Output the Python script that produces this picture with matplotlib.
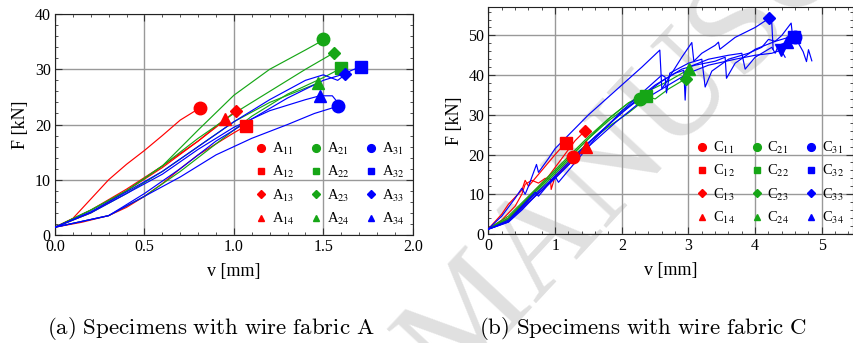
import matplotlib
matplotlib.use("Agg")
import matplotlib.pyplot as plt
from matplotlib.ticker import MultipleLocator, FormatStrFormatter

plt.rcParams['font.family'] = ['Liberation Serif', 'DejaVu Serif']
plt.rcParams['mathtext.fontset'] = 'stix'

RED, GREEN, BLUE = '#ff0000', '#16a616', '#0000ff'

# ---------------- Data: wire fabric A ----------------
A11_v = [0, 0.1, 0.2, 0.3, 0.4, 0.5, 0.6, 0.7, 0.81]
A11_F = [1.4, 3.0, 6.5, 10.0, 12.8, 15.3, 18.0, 20.8, 23.0]
A12_v = [0, 0.15, 0.3, 0.4, 0.5, 0.6, 0.7, 0.8, 0.9, 1.0, 1.07]
A12_F = [1.4, 2.3, 3.5, 5.0, 7.0, 9.3, 12.0, 14.5, 16.5, 18.5, 19.8]
A13_v = [0, 0.2, 0.4, 0.6, 0.8, 0.9, 1.01]
A13_F = [1.4, 4.5, 8.3, 12.5, 17.0, 19.5, 22.5]
A14_v = [0, 0.2, 0.4, 0.6, 0.8, 0.95]
A14_F = [1.4, 4.0, 8.0, 12.2, 17.0, 21.0]
A21_v = [0, 0.2, 0.4, 0.6, 0.8, 1.0, 1.2, 1.4, 1.5, 1.53]
A21_F = [1.4, 4.5, 8.0, 12.5, 19.0, 25.3, 30.0, 33.5, 35.3, 35.0]
A22_v = [0, 0.3, 0.5, 0.7, 0.9, 1.1, 1.3, 1.5, 1.6]
A22_F = [1.4, 3.5, 7.0, 11.5, 16.5, 21.5, 25.5, 28.5, 30.2]
A23_v = [0, 0.2, 0.4, 0.6, 0.8, 1.0, 1.2, 1.4, 1.56]
A23_F = [1.4, 4.5, 8.0, 12.5, 17.5, 22.0, 26.0, 30.0, 33.0]
A24_v = [0, 0.2, 0.4, 0.6, 0.8, 1.0, 1.2, 1.47]
A24_F = [1.4, 4.0, 7.5, 11.5, 16.0, 20.5, 24.0, 27.5]
A31_v = [0, 0.3, 0.5, 0.7, 0.9, 1.1, 1.3, 1.45, 1.58]
A31_F = [1.4, 3.5, 7.0, 10.5, 14.5, 17.5, 20.0, 22.0, 23.3]
A32_v = [0, 0.2, 0.4, 0.6, 0.8, 1.0, 1.2, 1.4, 1.5, 1.58, 1.65, 1.71, 1.74]
A32_F = [1.4, 4.2, 7.8, 11.5, 16.0, 20.5, 24.5, 28.0, 29.0, 28.0, 29.7, 30.5, 30.2]
A33_v = [0, 0.3, 0.5, 0.7, 0.9, 1.1, 1.3, 1.5, 1.62]
A33_F = [1.4, 3.5, 7.5, 12.0, 17.0, 21.0, 24.8, 28.0, 29.2]
A34_v = [0, 0.2, 0.4, 0.6, 0.8, 1.0, 1.2, 1.4, 1.48, 1.55, 1.58]
A34_F = [1.4, 4.0, 7.5, 11.0, 15.5, 19.5, 22.5, 24.5, 25.2, 25.2, 24.0]
# end-marker positions (peak points)
A_end_v = [0.81, 1.07, 1.01, 0.95, 1.50, 1.60, 1.56, 1.47, 1.58, 1.71, 1.62, 1.48]
A_end_F = [23.0, 19.8, 22.5, 21.0, 35.4, 30.2, 33.0, 27.5, 23.3, 30.5, 29.2, 25.2]

# ---------------- Data: wire fabric C ----------------
C11_v = [0, 0.2, 0.4, 0.6, 0.8, 1.0, 1.15, 1.27]
C11_F = [1.3, 2.5, 5.0, 8.0, 11.0, 14.5, 17.0, 19.3]
C12_v = [0, 0.2, 0.3, 0.5, 0.55, 0.6, 0.7, 0.8, 1.0, 1.16]
C12_F = [1.3, 5.0, 7.5, 11.0, 13.5, 12.0, 14.0, 16.0, 20.0, 23.0]
C13_v = [0, 0.3, 0.5, 0.7, 0.9, 1.1, 1.3, 1.45]
C13_F = [1.3, 4.0, 7.5, 11.0, 14.5, 19.0, 23.5, 26.0]
C14_v = [0, 0.2, 0.4, 0.5, 0.55, 0.65, 0.75, 0.85, 0.93, 0.94, 1.0, 1.2, 1.46]
C14_F = [1.3, 3.5, 7.0, 10.0, 12.5, 13.5, 12.8, 14.0, 13.8, 11.2, 14.5, 18.0, 21.8]
C21_v = [0, 0.3, 0.6, 0.9, 1.2, 1.5, 1.8, 2.0, 2.28]
C21_F = [1.3, 4.0, 9.0, 14.0, 19.0, 24.0, 28.5, 31.0, 34.0]
C22_v = [0, 0.3, 0.6, 0.9, 1.2, 1.5, 1.8, 2.1, 2.36]
C22_F = [1.3, 4.5, 9.5, 14.5, 19.5, 24.5, 29.0, 33.0, 34.8]
C23_v = [0, 0.3, 0.6, 0.9, 1.2, 1.5, 1.8, 2.1, 2.4, 2.5, 2.7, 2.9, 2.96]
C23_F = [1.3, 3.5, 8.5, 13.5, 18.5, 23.0, 27.0, 30.5, 34.5, 34.0, 36.5, 38.5, 39.0]
C24_v = [0, 0.3, 0.6, 0.9, 1.2, 1.5, 1.8, 2.1, 2.4, 2.7, 3.01]
C24_F = [1.3, 3.8, 9.0, 14.0, 19.0, 24.0, 29.0, 33.0, 36.0, 38.5, 41.5]
C31_v = [0, 0.3, 0.5, 0.7, 0.75, 1.0, 1.05, 1.3, 1.6, 2.0, 2.3, 2.6, 2.65, 2.67, 2.72,
         3.0, 3.2, 3.25, 3.35, 3.6, 3.9, 4.1, 4.2, 4.3, 4.4, 4.54, 4.57, 4.6]
C31_F = [1.2, 3.5, 7.0, 10.5, 9.5, 14.5, 13.0, 18.0, 24.0, 31.0, 35.5, 40.0, 39.5, 35.5, 40.5,
         43.0, 44.0, 37.0, 41.0, 44.0, 45.5, 47.0, 49.0, 48.5, 50.0, 53.1, 48.5, 49.7]
C32_v = [0, 0.3, 0.5, 0.7, 1.0, 1.3, 1.6, 2.0, 2.3, 2.6, 2.9, 3.1, 3.4, 3.55, 3.57, 3.7,
         4.0, 4.3, 4.5, 4.6, 4.65, 4.72, 4.77, 4.8, 4.85]
C32_F = [1.2, 3.0, 6.0, 9.5, 14.0, 19.0, 24.5, 30.5, 34.5, 38.5, 41.5, 42.5, 43.5, 44.5, 39.2, 43.0,
         46.5, 48.5, 49.5, 49.5, 48.0, 45.9, 43.4, 46.4, 43.6]
C33_v = [0, 0.2, 0.4, 0.5, 0.55, 0.6, 0.72, 0.75, 0.9, 1.0, 1.5, 2.0, 2.3, 2.57, 2.6, 2.75,
         2.9, 3.05, 3.08, 3.2, 3.4, 3.45, 3.47, 3.7, 4.0, 4.21, 4.25, 4.27]
C33_F = [1.3, 4.5, 9.0, 11.5, 10.0, 12.0, 17.5, 15.5, 19.0, 21.5, 30.0, 37.5, 42.0, 46.3, 36.5, 40.5,
         44.5, 48.2, 43.5, 45.5, 47.5, 48.3, 46.5, 49.5, 52.0, 54.3, 53.0, 46.5]
C34_v = [0, 0.3, 0.6, 0.9, 1.2, 1.5, 1.9, 2.2, 2.5, 2.8, 2.93, 2.95, 2.97, 3.0, 3.3, 3.6,
         3.8, 3.85, 4.0, 4.25, 4.3, 4.35, 4.48]
C34_F = [1.2, 3.2, 8.5, 13.0, 18.0, 23.0, 29.0, 33.5, 37.5, 40.5, 41.2, 33.7, 40.5, 42.0, 44.0, 45.0,
         45.5, 41.5, 44.5, 47.0, 45.5, 47.5, 48.3]
C35_v = [0, 0.3, 0.6, 0.9, 1.2, 1.5, 1.9, 2.3, 2.6, 2.7, 3.0, 3.3, 3.7, 4.0, 4.25, 4.39, 4.45]
C35_F = [1.2, 3.0, 8.0, 12.5, 17.5, 22.0, 28.0, 33.5, 36.5, 37.5, 40.5, 42.5, 44.0, 45.0, 45.5, 46.3, 44.5]
C_end_v = [1.27, 1.16, 1.45, 1.46, 2.28, 2.36, 2.96, 3.01, 4.60, 4.58, 4.21, 4.48, 4.39]
C_end_F = [19.3, 23.0, 26.0, 21.8, 34.0, 34.8, 39.0, 41.5, 49.7, 49.5, 54.3, 48.3, 46.3]

A_curves = [(A11_v, A11_F), (A12_v, A12_F), (A13_v, A13_F), (A14_v, A14_F),
            (A21_v, A21_F), (A22_v, A22_F), (A23_v, A23_F), (A24_v, A24_F),
            (A31_v, A31_F), (A32_v, A32_F), (A33_v, A33_F), (A34_v, A34_F)]
C_curves = [(C11_v, C11_F), (C12_v, C12_F), (C13_v, C13_F), (C14_v, C14_F),
            (C21_v, C21_F), (C22_v, C22_F), (C23_v, C23_F), (C24_v, C24_F),
            (C31_v, C31_F), (C32_v, C32_F), (C33_v, C33_F), (C34_v, C34_F), (C35_v, C35_F)]
A_labels = ['A$_{%d%d}$' % (i, j) for i in (1, 2, 3) for j in (1, 2, 3, 4)]
C_labels = ['C$_{%d%d}$' % (i, j) for i in (1, 2, 3) for j in (1, 2, 3, 4)]
colors = [RED] * 4 + [GREEN] * 4 + [BLUE] * 5
markers = ['o', 's', 'D', '^'] * 3 + ['v']
msizes = {'o': 9, 's': 8, 'D': 6.5, '^': 8, 'v': 8}

fig = plt.figure(figsize=(8.54, 3.43), dpi=100)

# watermark (background)
fig.text(0.527, -0.142, 'MANUSCRIPT', rotation=47, rotation_mode='anchor',
         ha='left', va='baseline', fontsize=100, color='#e0e0e0',
         family='Liberation Serif', zorder=-5)

axA = fig.add_axes([0.0644, 0.315, 0.419, 0.644])
axC = fig.add_axes([0.572, 0.318, 0.427, 0.661])


def style(ax, xmaj, xmin, ymaj, ymin):
    ax.set_facecolor('none')
    ax.xaxis.set_major_locator(MultipleLocator(xmaj))
    ax.xaxis.set_minor_locator(MultipleLocator(xmin))
    ax.yaxis.set_major_locator(MultipleLocator(ymaj))
    ax.yaxis.set_minor_locator(MultipleLocator(ymin))
    ax.tick_params(which='both', direction='in', top=True, right=True, labelsize=11.5,
                   color='#333333')
    ax.tick_params(which='major', length=5, width=0.8, pad=3)
    ax.tick_params(which='minor', length=2.5, width=0.6)
    ax.grid(True, which='major', color='#999999', linewidth=1.0)
    for s in ax.spines.values():
        s.set_linewidth(0.8)
        s.set_color('#222222')
    ax.set_axisbelow(True)


def draw(ax, curves, end_v, end_F, labels):
    for k, (v, F) in enumerate(curves):
        ax.plot(v, F, color=colors[k], lw=0.85, zorder=3)
        ax.plot([end_v[k]], [end_F[k]], linestyle='none', marker=markers[k],
                ms=msizes[markers[k]], color=colors[k], zorder=4)
    handles = []
    for k, lab in enumerate(labels):
        h, = ax.plot([], [], linestyle='none', marker=markers[k], ms=msizes[markers[k]] * 0.62,
                     color=colors[k], label=lab)
        handles.append(h)
    return handles


leg_kw = dict(ncol=3, loc='lower right', frameon=False, fontsize=10.5, handlelength=0.8,
              handletextpad=0.35, columnspacing=1.05, labelspacing=0.49, borderaxespad=0)

hA = draw(axA, A_curves, A_end_v, A_end_F, A_labels)
style(axA, 0.5, 0.1, 10, 2)
axA.set_xlim(0, 2.0)
axA.set_ylim(0, 40)
axA.xaxis.set_major_formatter(FormatStrFormatter('%.1f'))
axA.set_xlabel('v [mm]', fontsize=13, labelpad=6)
axA.set_ylabel('F [kN]', fontsize=13, labelpad=4)
axA.legend(handles=hA, bbox_to_anchor=(0.994, 0.01), **leg_kw)

hC = draw(axC, C_curves, C_end_v, C_end_F, C_labels)
style(axC, 1, 0.2, 10, 2)
axC.set_xlim(0, 5.47)
axC.set_ylim(0, 57.1)
axC.set_xlabel('v [mm]', fontsize=13, labelpad=6)
axC.set_ylabel('F [kN]', fontsize=13, labelpad=4)
axC.legend(handles=hC, bbox_to_anchor=(0.990, 0.01), **leg_kw)

fig.text(211 / 854, 1 - 328 / 343, r'$\mathrm{(a)\ Specimens\ with\ wire\ fabric\ A}$',
         ha='center', va='center', fontsize=16.5, math_fontfamily='cm')
fig.text(643 / 854, 1 - 328 / 343, r'$\mathrm{(b)\ Specimens\ with\ wire\ fabric\ C}$',
         ha='center', va='center', fontsize=16.5, math_fontfamily='cm')

fig.savefig('out.png', dpi=100)
